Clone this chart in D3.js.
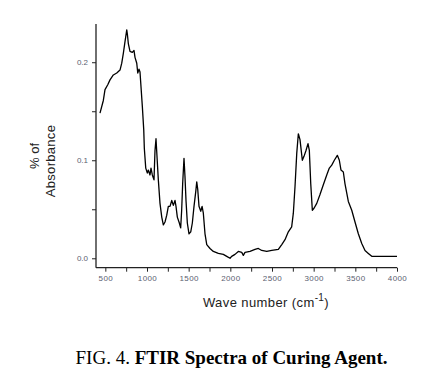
<!DOCTYPE html>
<html><head><meta charset="utf-8">
<script src="https://cdn.jsdelivr.net/npm/d3@7"></script>
<style>body{margin:0;background:#fff}svg{display:block}</style>
</head><body>
<script>
const wavenumber = [436,476,496,529,556,596,637,676,697,716,736,757,764,776,796,824,844,856,877,889,904,916,928,944,961,968,985,1004,1016,1036,1048,1064,1084,1096,1108,1116,1136,1156,1177,1196,1216,1237,1256,1276,1297,1316,1336,1348,1364,1388,1404,1416,1428,1444,1456,1468,1484,1504,1525,1544,1564,1585,1597,1609,1624,1645,1661,1676,1696,1717,1756,1796,1856,1916,1957,1996,2016,2056,2096,2137,2156,2176,2236,2296,2336,2377,2437,2497,2576,2617,2656,2696,2736,2756,2776,2797,2816,2836,2864,2884,2908,2932,2948,2965,2984,3004,3037,3076,3116,3157,3188,3217,3248,3284,3308,3328,3356,3376,3416,3457,3496,3536,3577,3616,3656,3697,3800,3900,4000];
const absorbance = [0.148,0.161,0.172,0.177,0.182,0.187,0.189,0.192,0.199,0.209,0.221,0.233,0.229,0.219,0.211,0.210,0.212,0.205,0.199,0.189,0.193,0.190,0.175,0.155,0.131,0.112,0.092,0.087,0.090,0.085,0.092,0.085,0.080,0.110,0.122,0.110,0.080,0.056,0.042,0.034,0.037,0.044,0.053,0.053,0.059,0.054,0.059,0.053,0.042,0.036,0.031,0.049,0.076,0.102,0.083,0.059,0.036,0.025,0.027,0.036,0.053,0.068,0.078,0.070,0.053,0.048,0.053,0.046,0.025,0.014,0.010,0.007,0.005,0.004,0.002,0.000,0.002,0.004,0.007,0.006,0.003,0.006,0.007,0.009,0.010,0.008,0.007,0.008,0.009,0.014,0.019,0.027,0.032,0.046,0.073,0.107,0.127,0.121,0.100,0.104,0.110,0.117,0.110,0.076,0.049,0.051,0.056,0.065,0.075,0.085,0.092,0.095,0.100,0.105,0.100,0.090,0.088,0.076,0.058,0.049,0.037,0.025,0.015,0.008,0.005,0.002,0.002,0.002,0.002];
const xTicks = [500,750,1000,1250,1500,1750,2000,2250,2500,2750,3000,3250,3500,3750,4000];
const xTickLabels = ["500","1000","1500","2000","2500","3000","3500","4000"];
const yTicks = [0,0.05,0.1,0.15,0.2];
const yTickLabels = ["0.0","0.1","0.2"];

const svg = d3.select("body").append("svg").attr("width",430).attr("height",390);
const x = d3.scaleLinear().domain([388,4000]).range([96,397]);
const y = d3.scaleLinear().domain([-0.0096,0.239]).range([267.7,24]);
const tickColor = "#5a6070";

const xAxis = d3.axisBottom(x).tickValues(xTicks).tickSize(4).tickSizeOuter(0)
  .tickFormat(d => xTickLabels.includes(String(d)) ? String(d) : "");
const gx = svg.append("g").attr("transform","translate(0,267.7)").call(xAxis);
gx.select(".domain").attr("d","M96,0H397").attr("stroke","#222").attr("stroke-width",1.3);
gx.selectAll(".tick line").attr("stroke","#222").attr("stroke-width",1);
gx.selectAll(".tick text").attr("fill",tickColor).attr("font-family","Arial, 'Liberation Sans', sans-serif")
  .attr("font-size","8px").attr("letter-spacing","0.4px").attr("y",8);

const yAxis = d3.axisLeft(y).tickValues(yTicks).tickSize(4).tickSizeOuter(0)
  .tickFormat(d => { const s = d3.format(".1f")(d); return (Math.abs(d*10-Math.round(d*10))<1e-9 && yTickLabels.includes(s)) ? s : ""; });
const gy = svg.append("g").attr("transform","translate(96,0)").call(yAxis);
gy.select(".domain").attr("d","M0,24V267.7").attr("stroke","#222").attr("stroke-width",1.3);
gy.selectAll(".tick line").attr("stroke","#222").attr("stroke-width",1);
gy.selectAll(".tick text").attr("fill",tickColor).attr("font-family","Arial, 'Liberation Sans', sans-serif")
  .attr("font-size","8px").attr("x",-8);

const data = wavenumber.map((w,i)=>[w,absorbance[i]]);
svg.append("path").datum(data)
  .attr("d", d3.line().x(d=>x(d[0])).y(d=>y(d[1])))
  .attr("fill","none").attr("stroke","#000").attr("stroke-width",1.3).attr("stroke-linejoin","round");

// y title
const yt = svg.append("text").attr("transform","translate(0,0)")
  .attr("font-family","Arial, 'Liberation Sans', sans-serif").attr("font-size","13px").attr("fill","#222")
  .attr("text-anchor","middle");
svg.append("text").attr("transform","translate(34,156) rotate(-90)")
  .attr("font-family","Arial, 'Liberation Sans', sans-serif").attr("font-size","13px").attr("fill","#222")
  .attr("text-anchor","middle").attr("dominant-baseline","central").text("% of");
svg.append("text").attr("transform","translate(50,161) rotate(-90)")
  .attr("font-family","Arial, 'Liberation Sans', sans-serif").attr("font-size","13px").attr("fill","#222")
  .attr("letter-spacing","0.3px")
  .attr("text-anchor","middle").attr("dominant-baseline","central").text("Absorbance");

// x title
const xt = svg.append("text").attr("x",266).attr("y",306.5).attr("text-anchor","middle")
  .attr("font-family","Arial, 'Liberation Sans', sans-serif").attr("font-size","13px").attr("fill","#222")
  .attr("letter-spacing","0.4px");
xt.append("tspan").text("Wave number (cm");
xt.append("tspan").attr("font-size","10px").attr("dy","-6").text("-1");
xt.append("tspan").attr("dy","6").text(")");

// caption
const cap = svg.append("text").attr("x",231.5).attr("y",363.5).attr("text-anchor","middle")
  .attr("font-family","'Liberation Serif','Times New Roman',serif").attr("font-size","19px").attr("fill","#000");
cap.append("tspan").text("FIG. 4. ");
cap.append("tspan").attr("font-weight","bold").text("FTIR Spectra of Curing Agent.");
</script>
</body></html>
